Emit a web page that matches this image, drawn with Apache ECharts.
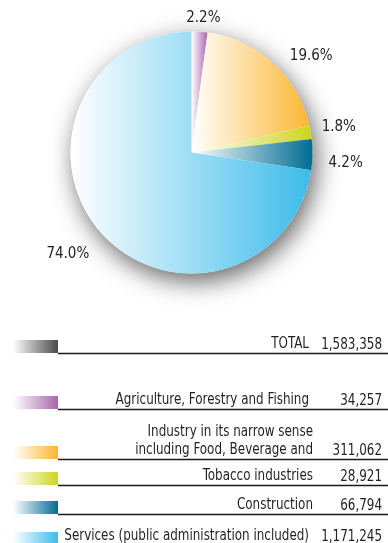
<!DOCTYPE html>
<html>
<head>
<meta charset="utf-8">
<script src="https://cdn.jsdelivr.net/npm/echarts@6/dist/echarts.min.js"></script>
<style>
  html, body { margin: 0; padding: 0; background: #ffffff; }
  #chart { width: 388px; height: 543px; }
</style>
</head>
<body>
<div id="chart"></div>
<script>
// Employment by sector
const categories = [
  'Agriculture, Forestry and Fishing',
  'Industry in its narrow sense\nincluding Food, Beverage and',
  'Tobacco industries',
  'Construction',
  'Services (public administration included)'
];
const values = [34257, 311062, 28921, 66794, 1171245];
const totalName = 'TOTAL';
const totalValue = 1583358;

const sectorColors = ['#a866ad', '#fbb631', '#cdd51e', '#006c93', '#3cbbea'];
const totalColor = '#4a4a4a';

const FONT = "'Liberation Sans Narrow', 'DejaVu Sans Condensed', sans-serif";
const TEXT = '#231f20';

function fade(color) {
  return {
    type: 'linear', x: 0, y: 0, x2: 1, y2: 0,
    colorStops: [
      { offset: 0, color: '#ffffff' },
      { offset: 1, color: color }
    ]
  };
}

const fmt = v => v.toLocaleString('en-US');
const pct = v => (v / totalValue * 100).toFixed(1) + '%';

// pie geometry
const center = [191.5, 152.5];
const radius = 121;

// small nudges for the outside percentage labels
const labelNudge = [
  [-24, -4],
  [0, 0],
  [-9, -3],
  [-4, 8],
  [7, 16]
];

// table rows: underline y for each row (total first)
const rowLines = [353, 409, 459, 485, 514, 545];
const rowTextRight = [309, 309, 313, 313, 313, 309];
const condense = 0.83;

const graphics = [];
const rows = [{ name: totalName, value: totalValue, color: totalColor }]
  .concat(categories.map((c, i) => ({ name: c, value: values[i], color: sectorColors[i] })));

rows.forEach((r, i) => {
  const y = rowLines[i];
  graphics.push({
    type: 'rect', silent: true,
    shape: { x: 13, y: y - 13, width: 45, height: 13 },
    style: { fill: fade(r.color) }
  });
  graphics.push({
    type: 'line', silent: true,
    shape: { x1: 58, y1: y + 0.5, x2: 388, y2: y + 0.5 },
    style: { stroke: '#1a1a1a', lineWidth: 1.3 }
  });
  graphics.push({
    type: 'text', silent: true,
    x: rowTextRight[i], y: y, scaleX: condense,
    style: {
      text: r.name, fill: TEXT, font: '16px ' + FONT,
      align: 'right', verticalAlign: 'bottom', lineHeight: 18
    }
  });
  graphics.push({
    type: 'text', silent: true,
    x: 382, y: y, scaleX: condense,
    style: {
      text: fmt(r.value), fill: TEXT, font: '16px ' + FONT,
      align: 'right', verticalAlign: 'bottom'
    }
  });
});

const chart = echarts.init(document.getElementById('chart'), null, { renderer: 'canvas' });
chart.setOption({
  animation: false,
  backgroundColor: '#ffffff',
  graphic: graphics,
  series: [
    {
      // soft drop shadow under the whole disc
      type: 'pie',
      silent: true,
      center: center,
      radius: radius,
      z: 1,
      label: { show: false },
      labelLine: { show: false },
      itemStyle: {
        color: '#ffffff',
        shadowBlur: 24,
        shadowColor: 'rgba(0,0,0,0.6)',
        shadowOffsetX: 4,
        shadowOffsetY: 8
      },
      data: [{ value: 1, name: '' }]
    },
    {
      type: 'pie',
      center: center,
      radius: radius,
      startAngle: 90,
      clockwise: true,
      z: 2,
      avoidLabelOverlap: false,
      label: {
        show: true,
        position: 'outside',
        formatter: p => pct(p.value),
        fontFamily: FONT,
        fontSize: 15,
        color: TEXT
      },
      labelLine: { show: false, length: 10, length2: 5 },
      labelLayout: p => ({ dx: labelNudge[p.dataIndex][0], dy: labelNudge[p.dataIndex][1] }),
      itemStyle: { borderWidth: 0 },
      data: categories.map((c, i) => ({
        name: c,
        value: values[i],
        itemStyle: { color: fade(sectorColors[i]) }
      }))
    }
  ]
});
</script>
</body>
</html>
